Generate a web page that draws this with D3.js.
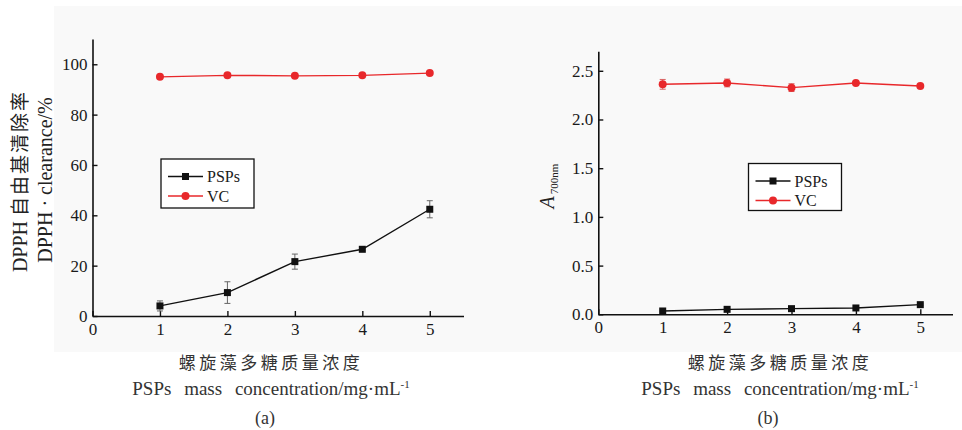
<!DOCTYPE html>
<html>
<head>
<meta charset="utf-8">
<script src="https://cdn.jsdelivr.net/npm/d3@7"></script>
<style>
  html, body { margin: 0; padding: 0; background: #ffffff; }
  svg { display: block; }
</style>
</head>
<body>
<svg id="chart" width="962" height="430"></svg>
<script>
// Concentration levels (mg/mL)
const concentrations = [1, 2, 3, 4, 5];

// Panel (a): DPPH radical clearance (%)
const dpphPSPs = [4.0, 9.3, 21.6, 26.5, 42.4];
const dpphPSPsErr = [2.0, 4.3, 3.0, 0.6, 3.4];
const dpphVC = [95.0, 95.6, 95.4, 95.6, 96.5];
const dpphVCErr = [0.5, 0.5, 0.5, 0.5, 0.5];

// Panel (b): absorbance at 700 nm
const absPSPs = [0.034, 0.051, 0.058, 0.065, 0.099];
const absPSPsErr = [0.008, 0.008, 0.008, 0.008, 0.008];
const absVC = [2.361, 2.375, 2.327, 2.375, 2.344];
const absVCErr = [0.05, 0.04, 0.04, 0.01, 0.012];

// Tick values
const xTicks = [0, 1, 2, 3, 4, 5];
const dpphTicks = [0, 20, 40, 60, 80, 100];
const absTicks = [0, 0.5, 1.0, 1.5, 2.0, 2.5];

const seriesNames = ["PSPs", "VC"];
const colors = { PSPs: "#111111", VC: "#e8282b" };

const SERIF = "'Liberation Serif', 'DejaVu Serif', serif";
const CJK = "'Noto Sans CJK SC', sans-serif";

const svg = d3.select("#chart");

// light panel background
svg.append("rect").attr("x", 54).attr("y", 6).attr("width", 908).attr("height", 346).attr("fill", "#f9f9f9");

function drawPanel(cfg) {
  const g = svg.append("g");
  const x = d3.scaleLinear().domain([0, 5.5]).range([cfg.x0, cfg.x1]);
  const y = d3.scaleLinear().domain([0, cfg.yMax]).range([cfg.y0, cfg.y1]);

  const xAxis = g.append("g").attr("transform", `translate(0,${cfg.y0})`)
    .call(d3.axisBottom(x).tickValues(xTicks).tickSizeInner(-5).tickSizeOuter(0).tickPadding(7).tickFormat(d3.format("d")));
  const yAxis = g.append("g").attr("transform", `translate(${cfg.x0},0)`)
    .call(d3.axisLeft(y).tickValues(cfg.yTicks).tickSizeInner(-5).tickSizeOuter(0).tickPadding(5).tickFormat(cfg.fmt));
  [xAxis, yAxis].forEach(a => {
    a.attr("font-family", null).attr("font-size", null);
    a.select(".domain").attr("stroke", "#111").attr("stroke-width", 1.6);
    a.selectAll(".tick line").attr("stroke", "#111").attr("stroke-width", 1.4);
    a.selectAll(".tick text").style("font-size", "17px").style("font-family", SERIF).attr("fill", "#1a1a1a");
  });

  const line = d3.line().x(d => x(d.c)).y(d => y(d.v));

  cfg.series.forEach(s => {
    const pts = concentrations.map((c, i) => ({ c, v: s.values[i], e: s.errs[i] }));
    const col = colors[s.name];
    // error bars
    const eb = g.append("g").attr("stroke", s.name === "VC" ? "#d96060" : "#666").attr("stroke-width", 1);
    pts.forEach(p => {
      eb.append("line").attr("x1", x(p.c)).attr("x2", x(p.c)).attr("y1", y(p.v - p.e)).attr("y2", y(p.v + p.e));
      [p.v - p.e, p.v + p.e].forEach(v => eb.append("line")
        .attr("x1", x(p.c) - 3).attr("x2", x(p.c) + 3).attr("y1", y(v)).attr("y2", y(v)));
    });
    g.append("path").datum(pts).attr("d", line).attr("fill", "none")
      .attr("stroke", col).attr("stroke-width", 1.4);
    if (s.name === "PSPs") {
      g.selectAll(null).data(pts).enter().append("rect")
        .attr("x", d => x(d.c) - 3.5).attr("y", d => y(d.v) - 3.5)
        .attr("width", 7).attr("height", 7).attr("fill", col);
    } else {
      g.selectAll(null).data(pts).enter().append("circle")
        .attr("cx", d => x(d.c)).attr("cy", d => y(d.v)).attr("r", 4).attr("fill", col);
    }
  });

  // legend
  const lg = g.append("g");
  lg.append("rect").attr("x", cfg.leg.x).attr("y", cfg.leg.y).attr("width", cfg.leg.w).attr("height", cfg.leg.h)
    .attr("fill", "#ffffff").attr("stroke", "#111").attr("stroke-width", 1.3);
  seriesNames.forEach((name, i) => {
    const yy = cfg.leg.y + 17.5 + i * 19.5;
    const lx0 = cfg.leg.x + 7, lx1 = cfg.leg.x + 42;
    lg.append("line").attr("x1", lx0).attr("x2", lx1).attr("y1", yy).attr("y2", yy)
      .attr("stroke", colors[name]).attr("stroke-width", 1.4);
    const mx = (lx0 + lx1) / 2;
    if (name === "PSPs") {
      lg.append("rect").attr("x", mx - 3.5).attr("y", yy - 3.5).attr("width", 7).attr("height", 7).attr("fill", colors[name]);
    } else {
      lg.append("circle").attr("cx", mx).attr("cy", yy).attr("r", 4).attr("fill", colors[name]);
    }
    lg.append("text").attr("x", lx1 + 4).attr("y", yy).attr("dy", "0.35em")
      .style("font-family", SERIF).style("font-size", "16px").attr("fill", "#1a1a1a").text(name);
  });

  // x-axis titles
  const cx = cfg.labelX;
  g.append("text").attr("x", cx).attr("y", 369).attr("text-anchor", "middle")
    .style("font-family", CJK).style("font-size", "17px").attr("letter-spacing", 3.5)
    .attr("fill", "#333").text("螺旋藻多糖质量浓度");
  const en = g.append("text").attr("x", cx).attr("y", 395).attr("text-anchor", "middle")
    .style("font-family", SERIF).style("font-size", "19px").attr("fill", "#333").attr("word-spacing", 8);
  en.append("tspan").text("PSPs mass concentration/mg·mL");
  en.append("tspan").style("font-size", "11px").attr("dy", -7).text("-1");
  g.append("text").attr("x", cfg.tagX).attr("y", 424).attr("text-anchor", "middle")
    .style("font-family", SERIF).style("font-size", "18px").attr("fill", "#333").text(cfg.tag);

  return g;
}

drawPanel({
  x0: 92.5, x1: 463.5, y0: 316, y1: 39.1, yMax: 110, yTicks: dpphTicks, fmt: d3.format("d"),
  series: [
    { name: "PSPs", values: dpphPSPs, errs: dpphPSPsErr },
    { name: "VC", values: dpphVC, errs: dpphVCErr }
  ],
  leg: { x: 161, y: 159, w: 93, h: 49 },
  labelX: 271, tagX: 265, tag: "(a)"
});

drawPanel({
  x0: 598.3, x1: 952.5, y0: 314.3, y1: 51.3, yMax: 2.7, yTicks: absTicks, fmt: d3.format(".1f"),
  series: [
    { name: "PSPs", values: absPSPs, errs: absPSPsErr },
    { name: "VC", values: absVC, errs: absVCErr }
  ],
  leg: { x: 748.5, y: 163.5, w: 93, h: 47 },
  labelX: 780, tagX: 768, tag: "(b)"
});

// y-axis title, panel (a)
const ya = svg.append("text").attr("transform", "translate(27,181) rotate(-90)")
  .attr("text-anchor", "middle").style("font-family", SERIF).style("font-size", "20px").attr("fill", "#222");
ya.append("tspan").text("DPPH ");
ya.append("tspan").style("font-family", CJK).style("font-size", "19px").attr("letter-spacing", 2).text("自由基清除率");
svg.append("text").attr("transform", "translate(52,180) rotate(-90)")
  .attr("text-anchor", "middle").style("font-family", SERIF).style("font-size", "20px").attr("fill", "#222")
  .text("DPPH · clearance/%");

// y-axis title, panel (b)
const yb = svg.append("text").attr("transform", "translate(554,186) rotate(-90)")
  .attr("text-anchor", "middle").style("font-family", SERIF).attr("fill", "#222");
yb.append("tspan").style("font-size", "20px").style("font-style", "italic").text("A");
yb.append("tspan").style("font-size", "11px").attr("dy", 4).attr("dx", 2).text("700nm");
</script>
</body>
</html>
